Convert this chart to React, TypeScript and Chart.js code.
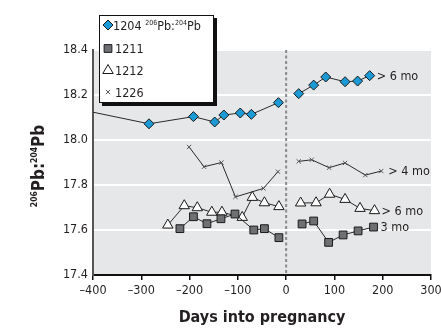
import React, { useEffect, useRef } from "react";
import { Chart, registerables } from "chart.js";

Chart.register(...registerables);

const FONT = "'DejaVu Sans Condensed', 'Liberation Sans Narrow', 'Arial Narrow', sans-serif";
const TEXT = "#231f20";

// ---- data ----
const xTickValues = [-400, -300, -200, -100, 0, 100, 200, 300];
const yTickValues = [17.4, 17.6, 17.8, 18.0, 18.2, 18.4];
const seriesNames = ["1204", "1211", "1212", "1226"];

const days1204Pre = [-430, -284, -192, -148, -129, -95, -72, -16];
const vals1204Pre = [18.137, 18.072, 18.104, 18.08, 18.111, 18.12, 18.114, 18.166];
const days1204Post = [26, 57, 82, 122, 148, 173];
const vals1204Post = [18.206, 18.244, 18.28, 18.259, 18.262, 18.286];

const days1211Pre = [-220, -192, -164, -135, -106, -67, -45, -15];
const vals1211Pre = [17.606, 17.659, 17.628, 17.65, 17.671, 17.6, 17.606, 17.566];
const days1211Post = [33, 57, 88, 118, 149, 181];
const vals1211Post = [17.627, 17.64, 17.545, 17.578, 17.596, 17.613];

const days1212Pre = [-245, -211, -184, -154, -133, -91, -70, -45, -15];
const vals1212Pre = [17.622, 17.708, 17.699, 17.679, 17.679, 17.656, 17.745, 17.721, 17.704];
const days1212Post = [30, 62, 90, 122, 153, 183];
const vals1212Post = [17.72, 17.721, 17.759, 17.736, 17.696, 17.686];

const days1226Pre = [-201, -170, -134, -105, -47, -17];
const vals1226Pre = [17.969, 17.881, 17.9, 17.747, 17.785, 17.859];
const days1226Post = [26, 53, 89, 122, 164, 197];
const vals1226Post = [17.905, 17.912, 17.877, 17.898, 17.844, 17.862];

const endLabels = ["> 6 mo", "3 mo", "> 6 mo", "> 4 mo"];

// ---- styles ----
const styles: Record<string, any> = {
  "1204": { pointStyle: "rectRot", radius: 5, bg: "#1b9ad6", border: "#1a1a1a", bw: 1 },
  "1211": { pointStyle: "rect", radius: 5.5, bg: "#6f7073", border: "#1a1a1a", bw: 1 },
  "1212": { pointStyle: "triangle", radius: 6, bg: "#ffffff", border: "#1a1a1a", bw: 1 },
  "1226": { pointStyle: "crossRot", radius: 3, bg: "#555555", border: "#555555", bw: 1 },
};

const zip = (xs: number[], ys: number[]) => xs.map((x, i) => ({ x, y: ys[i] }));

function makeDataset(name: string, xs: number[], ys: number[], label?: string, hideFirst?: boolean) {
  const s = styles[name];
  return {
    label: name,
    data: zip(xs, ys),
    showLine: true,
    borderColor: "#2a2a2a",
    borderWidth: 1,
    pointStyle: s.pointStyle,
    pointRadius: hideFirst ? xs.map((_, i) => (i === 0 ? 0 : s.radius)) : s.radius,
    pointBackgroundColor: s.bg,
    pointBorderColor: s.border,
    pointBorderWidth: s.bw,
    endLabel: label,
  } as any;
}

function drawMarker(ctx: CanvasRenderingContext2D, name: string, x: number, y: number) {
  const s = styles[name];
  const r = s.radius;
  ctx.save();
  ctx.fillStyle = s.bg;
  ctx.strokeStyle = s.border;
  ctx.lineWidth = 1;
  ctx.beginPath();
  if (s.pointStyle === "rectRot") {
    ctx.moveTo(x, y - r); ctx.lineTo(x + r, y); ctx.lineTo(x, y + r); ctx.lineTo(x - r, y); ctx.closePath();
    ctx.fill(); ctx.stroke();
  } else if (s.pointStyle === "rect") {
    const h = r * Math.SQRT1_2;
    ctx.rect(x - h, y - h, 2 * h, 2 * h); ctx.fill(); ctx.stroke();
  } else if (s.pointStyle === "triangle") {
    ctx.moveTo(x, y - r);
    ctx.lineTo(x + r * Math.sin((2 * Math.PI) / 3), y - r * Math.cos((2 * Math.PI) / 3));
    ctx.lineTo(x + r * Math.sin((4 * Math.PI) / 3), y - r * Math.cos((4 * Math.PI) / 3));
    ctx.closePath(); ctx.fill(); ctx.stroke();
  } else {
    const d = r * Math.SQRT1_2;
    ctx.moveTo(x - d, y - d); ctx.lineTo(x + d, y + d);
    ctx.moveTo(x + d, y - d); ctx.lineTo(x - d, y + d);
    ctx.stroke();
  }
  ctx.restore();
}

type Part = { t: string; size: number; bold?: boolean; rise?: number };
function measureRich(ctx: CanvasRenderingContext2D, parts: Part[]) {
  let w = 0;
  for (const p of parts) {
    ctx.font = `${p.bold ? "bold " : ""}${p.size}px ${FONT}`;
    w += ctx.measureText(p.t).width;
  }
  return w;
}
function drawRich(ctx: CanvasRenderingContext2D, parts: Part[], x: number, y: number) {
  let cx = x;
  for (const p of parts) {
    ctx.font = `${p.bold ? "bold " : ""}${p.size}px ${FONT}`;
    ctx.fillText(p.t, cx, y - (p.rise || 0));
    cx += ctx.measureText(p.t).width;
  }
}

const decorPlugin = {
  id: "decor",
  beforeDraw(chart: any) {
    const { ctx, chartArea: a } = chart;
    ctx.save();
    ctx.fillStyle = "#e6e7e8";
    ctx.fillRect(a.left, a.top, a.right - a.left, a.bottom - a.top);
    ctx.restore();
  },
  beforeDatasetsDraw(chart: any) {
    const { ctx, chartArea: a } = chart;
    const x0 = chart.scales.x.getPixelForValue(0);
    ctx.save();
    ctx.strokeStyle = "#8a8a8a";
    ctx.lineWidth = 2;
    ctx.setLineDash([3, 2.5]);
    ctx.beginPath();
    ctx.moveTo(x0, a.top);
    ctx.lineTo(x0, a.bottom);
    ctx.stroke();
    ctx.restore();
  },
  afterDatasetsDraw(chart: any) {
    const { ctx } = chart;
    ctx.save();
    ctx.fillStyle = TEXT;
    ctx.font = `12.5px ${FONT}`;
    ctx.textBaseline = "middle";
    ctx.textAlign = "left";
    chart.data.datasets.forEach((ds: any, i: number) => {
      if (!ds.endLabel) return;
      const meta = chart.getDatasetMeta(i);
      const last = meta.data[meta.data.length - 1];
      ctx.fillText(ds.endLabel, last.x + 7, last.y + 1);
    });
    ctx.restore();
  },
  afterDraw(chart: any) {
    const { ctx } = chart;
    ctx.save();
    ctx.fillStyle = TEXT;
    ctx.textBaseline = "alphabetic";
    ctx.textAlign = "left";
    // y-axis title
    const yParts: Part[] = [
      { t: "206", size: 8.5, bold: true, rise: 7 },
      { t: "Pb:", size: 17, bold: true },
      { t: "204", size: 8.5, bold: true, rise: 7 },
      { t: "Pb", size: 17, bold: true },
    ];
    const w = measureRich(ctx, yParts);
    ctx.save();
    ctx.translate(44, 166);
    ctx.rotate(-Math.PI / 2);
    drawRich(ctx, yParts, -w / 2, 0);
    ctx.restore();

    // legend
    const bx = 99, by = 15, bw = 114, bh = 87;
    ctx.fillStyle = "#111";
    ctx.fillRect(bx + 3, by + 3, bw + 1, bh + 1);
    ctx.fillStyle = "#ffffff";
    ctx.fillRect(bx, by, bw, bh);
    ctx.strokeStyle = "#111";
    ctx.lineWidth = 1;
    ctx.strokeRect(bx + 0.5, by + 0.5, bw, bh);
    const rowsY = [25, 48.5, 70.5, 92];
    seriesNames.forEach((name, i) => {
      drawMarker(ctx, name, 108, rowsY[i]);
      ctx.fillStyle = TEXT;
      const base = rowsY[i] + 4.5;
      if (i === 0) {
        drawRich(ctx, [
          { t: name + " ", size: 12.5 },
          { t: "206", size: 7, rise: 5 },
          { t: "Pb:", size: 12.5 },
          { t: "204", size: 7, rise: 5 },
          { t: "Pb", size: 12.5 },
        ], 113, base);
      } else {
        ctx.font = `12.5px ${FONT}`;
        ctx.fillText(name, 115, base);
      }
    });
    ctx.restore();
  },
};

export default function App() {
  const ref = useRef<HTMLCanvasElement | null>(null);
  useEffect(() => {
    if (!ref.current) return;
    const datasets = [
      makeDataset("1204", days1204Pre, vals1204Pre, undefined, true),
      makeDataset("1204", days1204Post, vals1204Post, endLabels[0]),
      makeDataset("1211", days1211Pre, vals1211Pre),
      makeDataset("1211", days1211Post, vals1211Post, endLabels[1]),
      makeDataset("1212", days1212Pre, vals1212Pre),
      makeDataset("1212", days1212Post, vals1212Post, endLabels[2]),
      makeDataset("1226", days1226Pre, vals1226Pre),
      makeDataset("1226", days1226Post, vals1226Post, endLabels[3]),
    ];
    const chart = new Chart(ref.current, {
      type: "scatter",
      data: { datasets },
      options: {
        animation: false,
        responsive: true,
        maintainAspectRatio: false,
        layout: { padding: { top: 50, right: 10, left: 0, bottom: 0 } },
        plugins: { legend: { display: false }, tooltip: { enabled: false } },
        scales: {
          x: {
            type: "linear",
            min: -400,
            max: 300,
            afterBuildTicks: (s: any) => { s.ticks = xTickValues.map((v) => ({ value: v })); },
            afterFit: (s: any) => { s.height = 53; s.paddingLeft = 0; s.paddingRight = 0; },
            grid: { drawOnChartArea: false, drawTicks: true, tickLength: 5, color: "#111", lineWidth: 1.5 },
            border: { display: true, color: "#111", width: 2 },
            ticks: {
              padding: 3,
              color: TEXT,
              font: { family: FONT, size: 12.5 },
              maxRotation: 0,
              callback: (v: any) => (v < 0 ? "\u2013" + Math.abs(v) : String(v)),
            },
            title: {
              display: true,
              text: "Days into pregnancy",
              color: TEXT,
              font: { family: FONT, size: 16, weight: "bold" },
              padding: { top: 0, bottom: 1 },
            },
          },
          y: {
            type: "linear",
            min: 17.4,
            max: 18.4,
            afterBuildTicks: (s: any) => { s.ticks = yTickValues.map((v) => ({ value: v })); },
            afterFit: (s: any) => { s.width = 93; },
            grid: { color: "#ffffff", lineWidth: 2, drawTicks: false },
            border: { display: true, color: "#555555", width: 2 },
            ticks: {
              padding: 5,
              color: TEXT,
              font: { family: FONT, size: 12.5 },
              callback: (v: any) => Number(v).toFixed(1),
            },
          },
        },
      },
      plugins: [decorPlugin],
    } as any);
    return () => chart.destroy();
  }, []);
  return (
    <div style={{ position: "absolute", left: 0, top: 0, width: 441, height: 328 }}>
      <canvas ref={ref} />
    </div>
  );
}
